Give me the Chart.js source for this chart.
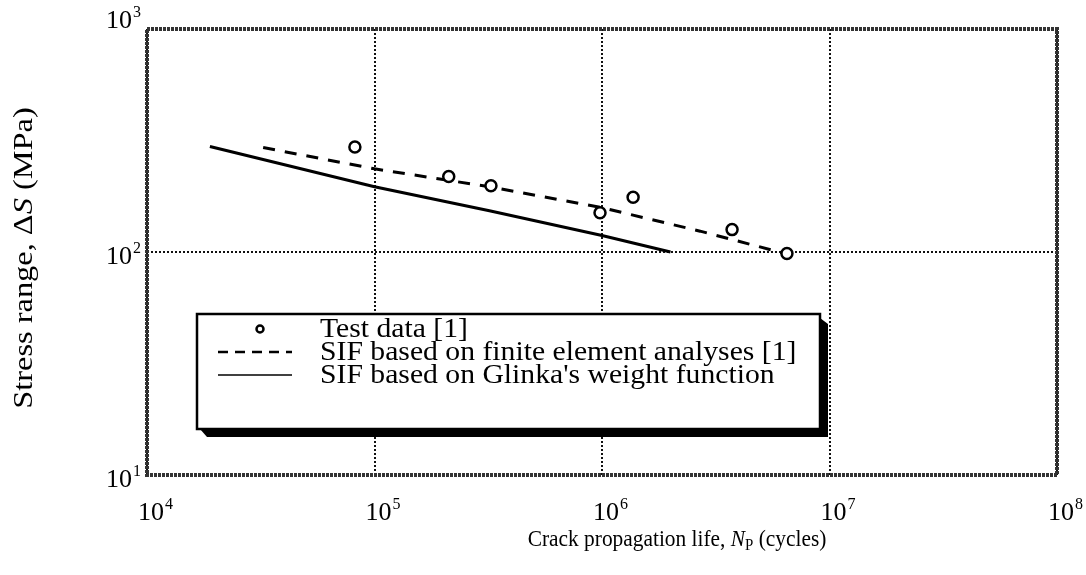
<!DOCTYPE html>
<html>
<head>
<meta charset="utf-8">
<script src="https://cdn.jsdelivr.net/npm/chart.js@4.4.1/dist/chart.umd.min.js"></script>
<style>
  html, body { margin: 0; padding: 0; background: #fff; }
  #wrap { position: relative; width: 1086px; height: 575px; }
</style>
</head>
<body>
<div id="wrap"><canvas id="sn"></canvas></div>
<script>
// values (N in cycles, S in MPa)
const testN = [8.2e4, 2.12e5, 3.25e5, 9.8e5, 1.37e6, 3.73e6, 6.5e6];
const testS = [296, 218, 198, 150, 176, 126, 98.5];

const feN = [3.24e4, 1e5, 3.22e5, 1e6, 2.7e6, 6.37e6];
const feS = [294, 236, 196, 158, 124, 98.5];

const glinkaN = [1.89e4, 1e5, 3.2e5, 1e6, 2e6];
const glinkaS = [297, 196, 153, 118.6, 100];

const xExps = [4, 5, 6, 7, 8];
const yExps = [1, 2, 3];

const legendLabels = [
  "Test data [1]",
  "SIF based on finite element analyses [1]",
  "SIF based on Glinka's weight function"
];

const SERIF = "'Liberation Serif', 'Times New Roman', serif";

function pts(xs, ys) {
  return xs.map((x, i) => ({ x: x, y: ys[i] }));
}

function decadesOnly(exps) {
  return function (scale) {
    scale.ticks = exps.map(e => ({ value: Math.pow(10, e) }));
  };
}

// "10" with a raised exponent
function drawPower(ctx, exp, x, y, align) {
  ctx.font = "26px " + SERIF;
  const wBase = ctx.measureText("10").width;
  ctx.font = "16px " + SERIF;
  const wExp = ctx.measureText(String(exp)).width;
  let x0 = x;
  if (align === "right") x0 = x - wBase - wExp - 1;
  ctx.textAlign = "left";
  ctx.textBaseline = "alphabetic";
  ctx.font = "26px " + SERIF;
  ctx.fillText("10", x0, y);
  ctx.font = "16px " + SERIF;
  ctx.fillText(String(exp), x0 + wBase + 1, y - 11);
}

// runs of [text, font, dy] drawn one after another, centred on cx, stretched by sx
function drawRuns(ctx, runs, cx, y, sx) {
  sx = sx || 1;
  let total = 0;
  runs.forEach(r => { ctx.font = r[1]; total += ctx.measureText(r[0]).width; });
  ctx.save();
  ctx.translate(cx, y);
  ctx.scale(sx, 1);
  let x = -total / 2;
  ctx.textAlign = "left";
  runs.forEach(r => {
    ctx.font = r[1];
    ctx.fillText(r[0], x, r[2] || 0);
    x += ctx.measureText(r[0]).width;
  });
  ctx.restore();
}

const decorations = {
  id: "decorations",
  afterDraw(chart) {
    const ctx = chart.ctx;
    const a = chart.chartArea;
    const xs = chart.scales.x;
    const ys = chart.scales.y;
    ctx.save();
    ctx.fillStyle = "#000";

    // frame
    ctx.lineWidth = 4;
    ctx.strokeStyle = "#333";
    ctx.setLineDash([3, 1]);
    ctx.strokeRect(a.left, a.top, a.right - a.left, a.bottom - a.top);
    ctx.setLineDash([]);
    ctx.strokeStyle = "#000";

    // x tick labels
    xExps.forEach((e, i) => {
      let px = xs.getPixelForValue(Math.pow(10, e)) - 9;
      if (i === xExps.length - 1) px = chart.width - 38;
      drawPower(ctx, e, px, a.bottom + 45, "left");
    });
    // y tick labels
    yExps.forEach(e => {
      let py = ys.getPixelForValue(Math.pow(10, e)) + 12;
      if (py < 45) py = 28;
      drawPower(ctx, e, a.left - 6, py, "right");
    });

    // x title
    ctx.textBaseline = "alphabetic";
    drawRuns(ctx, [
      ["Crack propagation life, ", "23px " + SERIF],
      ["N", "italic 23px " + SERIF],
      ["P", "16px " + SERIF, 4],
      [" (cycles)", "23px " + SERIF]
    ], (a.left + a.right) / 2 + 75, a.bottom + 71, 0.93);

    // y title
    ctx.save();
    ctx.translate(32, (a.top + a.bottom) / 2 + 6);
    ctx.rotate(-Math.PI / 2);
    drawRuns(ctx, [
      ["Stress range, \u0394", "27px " + SERIF],
      ["S", "italic 27px " + SERIF],
      [" (MPa)", "27px " + SERIF]
    ], 0, 0, 1.2);
    ctx.restore();

    // legend box with drop shadow
    const L = 197, T = 314, R = 820, B = 429;
    ctx.fillStyle = "#000";
    ctx.beginPath();
    ctx.moveTo(R, T + 4); ctx.lineTo(R + 8, T + 10); ctx.lineTo(R + 8, B + 8);
    ctx.lineTo(L + 10, B + 8); ctx.lineTo(L + 3, B); ctx.lineTo(R, B); ctx.closePath();
    ctx.fill();
    ctx.fillStyle = "#fff";
    ctx.fillRect(L, T, R - L, B - T);
    ctx.lineWidth = 2.5;
    ctx.strokeStyle = "#000";
    ctx.strokeRect(L, T, R - L, B - T);

    const rows = [329, 352, 375];
    const sx0 = 218, sx1 = 292, tx = 320;
    ctx.beginPath();
    ctx.lineWidth = 2.5;
    ctx.arc((sx0 + sx1) / 2 + 5, rows[0], 3.5, 0, Math.PI * 2);
    ctx.stroke();
    ctx.lineWidth = 2.5;
    ctx.setLineDash([10, 7]);
    ctx.beginPath(); ctx.moveTo(sx0, rows[1]); ctx.lineTo(sx1, rows[1]); ctx.stroke();
    ctx.setLineDash([]);
    ctx.lineWidth = 1.5;
    ctx.beginPath(); ctx.moveTo(sx0, rows[2]); ctx.lineTo(sx1, rows[2]); ctx.stroke();

    ctx.fillStyle = "#000";
    ctx.font = "28px " + SERIF;
    ctx.textAlign = "left";
    ctx.textBaseline = "middle";
    legendLabels.forEach((t, i) => {
      ctx.save();
      ctx.translate(tx, rows[i] + 1);
      ctx.scale(1.06, 1);
      ctx.fillText(t, 0, 0);
      ctx.restore();
    });
    ctx.restore();
  }
};

new Chart(document.getElementById("sn"), {
  type: "scatter",
  data: {
    datasets: [
      {
        label: legendLabels[0],
        data: pts(testN, testS),
        showLine: false,
        pointStyle: "circle",
        pointRadius: 5.5,
        pointBorderWidth: 2.5,
        pointBackgroundColor: "#fff",
        pointBorderColor: "#000",
        order: 0
      },
      {
        label: legendLabels[1],
        data: pts(feN, feS),
        showLine: true,
        borderColor: "#000",
        borderWidth: 3,
        borderDash: [12, 10],
        pointRadius: 0,
        tension: 0,
        order: 1
      },
      {
        label: legendLabels[2],
        data: pts(glinkaN, glinkaS),
        showLine: true,
        borderColor: "#000",
        borderWidth: 3,
        pointRadius: 0,
        tension: 0,
        order: 2
      }
    ]
  },
  plugins: [decorations],
  options: {
    responsive: true,
    maintainAspectRatio: false,
    animation: false,
    layout: { padding: { left: 147, right: 29, top: 29, bottom: 100 } },
    plugins: {
      legend: { display: false },
      tooltip: { enabled: false }
    },
    scales: {
      x: {
        type: "logarithmic",
        min: 1e4,
        max: 1e8,
        afterBuildTicks: decadesOnly(xExps),
        ticks: { display: false },
        grid: { color: "#111", lineWidth: 2, drawTicks: false },
        border: { display: false, dash: [2, 2] }
      },
      y: {
        type: "logarithmic",
        min: 10,
        max: 1000,
        afterBuildTicks: decadesOnly(yExps),
        ticks: { display: false },
        grid: { color: "#111", lineWidth: 2, drawTicks: false },
        border: { display: false, dash: [2, 2] }
      }
    }
  }
});
</script>
</body>
</html>
